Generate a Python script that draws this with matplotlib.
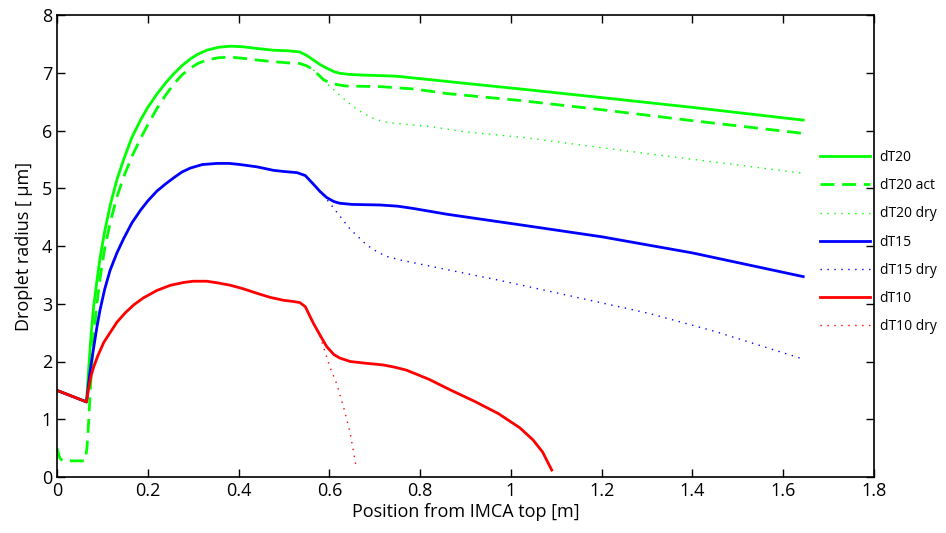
import numpy as np
import matplotlib
matplotlib.use("Agg")
import matplotlib.pyplot as plt

# ---- data ----
x_dT20 = [0.0, 0.065, 0.070, 0.075, 0.080, 0.088, 0.095, 0.105, 0.117, 0.132, 0.147,
          0.165, 0.184, 0.20, 0.220, 0.24, 0.257, 0.275, 0.294, 0.31, 0.330,
          0.355, 0.382, 0.41, 0.441, 0.477, 0.51, 0.535, 0.55, 0.565, 0.58,
          0.594, 0.61, 0.623, 0.645, 0.675, 0.748, 0.785, 0.859, 0.932, 1.02,
          1.2, 1.4, 1.644]
y_dT20 = [1.5, 1.30, 1.9, 2.45, 2.9, 3.40, 3.80, 4.25, 4.70, 5.15, 5.50,
          5.88, 6.18, 6.40, 6.63, 6.83, 6.98, 7.12, 7.24, 7.32, 7.39,
          7.44, 7.46, 7.45, 7.42, 7.39, 7.38, 7.36, 7.30, 7.22, 7.14,
          7.08, 7.02, 6.99, 6.97, 6.96, 6.94, 6.91, 6.85, 6.79, 6.72,
          6.57, 6.40, 6.18]

x_dT20_act = [0.0, 0.006, 0.012, 0.062, 0.066, 0.070, 0.074, 0.080, 0.088, 0.095, 0.105,
              0.117, 0.132, 0.147, 0.165, 0.184, 0.20, 0.220, 0.24, 0.257, 0.275,
              0.294, 0.31, 0.330, 0.355, 0.382, 0.41, 0.441, 0.48, 0.51, 0.535,
              0.55, 0.565, 0.578, 0.587, 0.60, 0.62, 0.638, 0.712, 0.785, 0.859,
              1.02, 1.2, 1.4, 1.644]
y_dT20_act = [0.5, 0.33, 0.28, 0.28, 0.5, 1.0, 1.6, 2.35, 3.0, 3.45, 3.95,
              4.40, 4.85, 5.20, 5.55, 5.86, 6.10, 6.38, 6.62, 6.80, 6.96,
              7.08, 7.16, 7.22, 7.26, 7.27, 7.25, 7.22, 7.19, 7.17, 7.16,
              7.12, 7.05, 6.95, 6.88, 6.83, 6.79, 6.77, 6.76, 6.72, 6.64,
              6.52, 6.36, 6.17, 5.95]

x_dT20_dry = [0.565, 0.587, 0.605, 0.623, 0.653, 0.675, 0.697, 0.72, 0.748, 0.822, 0.895,
              1.027, 1.3, 1.644]
y_dT20_dry = [7.05, 6.87, 6.74, 6.61, 6.41, 6.30, 6.21, 6.15, 6.12, 6.07, 5.98,
              5.88, 5.60, 5.26]

x_dT15 = [0.0, 0.065, 0.070, 0.075, 0.081, 0.088, 0.095, 0.105, 0.117, 0.132, 0.147,
          0.165, 0.184, 0.20, 0.220, 0.24, 0.257, 0.275, 0.294, 0.32, 0.352,
          0.38, 0.404, 0.441, 0.477, 0.50, 0.529, 0.547, 0.565, 0.58, 0.594,
          0.61, 0.623, 0.65, 0.712, 0.75, 0.785, 0.859, 1.035, 1.2, 1.4, 1.644]
y_dT15 = [1.5, 1.30, 1.65, 1.95, 2.25, 2.60, 2.90, 3.25, 3.58, 3.88, 4.13,
          4.40, 4.62, 4.78, 4.95, 5.08, 5.18, 5.28, 5.35, 5.41, 5.43,
          5.43, 5.41, 5.37, 5.31, 5.29, 5.27, 5.22, 5.07, 4.94, 4.84,
          4.77, 4.74, 4.72, 4.71, 4.69, 4.65, 4.55, 4.35, 4.16, 3.88, 3.47]

x_dT15_dry = [0.565, 0.587, 0.60, 0.616, 0.646, 0.682, 0.705, 0.726, 0.76, 0.792, 0.866,
              0.972, 1.1, 1.306, 1.45, 1.637]
y_dT15_dry = [5.06, 4.88, 4.75, 4.59, 4.29, 4.02, 3.90, 3.82, 3.75, 3.70, 3.58,
              3.41, 3.19, 2.83, 2.52, 2.06]

x_dT10 = [0.0, 0.065, 0.070, 0.075, 0.081, 0.09, 0.103, 0.117, 0.132, 0.15, 0.169,
          0.19, 0.220, 0.25, 0.28, 0.30, 0.330, 0.355, 0.382, 0.41, 0.441,
          0.47, 0.499, 0.52, 0.535, 0.547, 0.555, 0.565, 0.58, 0.594, 0.61,
          0.623, 0.646, 0.68, 0.719, 0.745, 0.770, 0.82, 0.866, 0.92, 0.972,
          1.02, 1.049, 1.07, 1.09]
y_dT10 = [1.5, 1.30, 1.55, 1.75, 1.91, 2.10, 2.33, 2.50, 2.68, 2.84, 2.98,
          3.10, 3.23, 3.32, 3.37, 3.39, 3.39, 3.36, 3.32, 3.26, 3.18,
          3.11, 3.06, 3.04, 3.02, 2.95, 2.82, 2.66, 2.45, 2.26, 2.12,
          2.06, 2.00, 1.97, 1.94, 1.90, 1.85, 1.69, 1.51, 1.31, 1.10,
          0.85, 0.64, 0.43, 0.12]

x_dT10_dry = [0.565, 0.572, 0.580, 0.590, 0.601, 0.616, 0.631, 0.646, 0.659]
y_dT10_dry = [2.66, 2.55, 2.43, 2.18, 1.91, 1.62, 1.22, 0.76, 0.18]

x_ticks = [0, 0.2, 0.4, 0.6, 0.8, 1, 1.2, 1.4, 1.6, 1.8]
x_tick_labels = ["0", "0.2", "0.4", "0.6", "0.8", "1", "1.2", "1.4", "1.6", "1.8"]
y_ticks = [0, 1, 2, 3, 4, 5, 6, 7, 8]

plt.rcParams['font.family'] = ['Open Sans', 'DejaVu Sans']

fig = plt.figure(figsize=(9.46, 5.33), dpi=100)
ax = fig.add_axes([57 / 946, 56 / 533, 817 / 946, 462 / 533])

lw = 2.0
dry = (0, (1, 4))
ax.plot(x_dT20, y_dT20, color=(0, 1, 0), lw=lw, label="dT20")
ax.plot(x_dT20_act, y_dT20_act, color=(0, 1, 0), lw=lw, dashes=(5, 2.8), label="dT20 act")
ax.plot(x_dT20_dry, y_dT20_dry, color=(0, 1, 0), lw=1.0, ls=dry, label="dT20 dry")
ax.plot(x_dT15, y_dT15, color=(0, 0, 1), lw=lw, label="dT15")
ax.plot(x_dT15_dry, y_dT15_dry, color=(0, 0, 1), lw=1.0, ls=dry, label="dT15 dry")
ax.plot(x_dT10, y_dT10, color=(1, 0, 0), lw=lw, label="dT10")
ax.plot(x_dT10_dry, y_dT10_dry, color=(1, 0, 0), lw=1.0, ls=dry, label="dT10 dry")

ax.set_xlim(0, 1.8)
ax.set_ylim(0, 8)
ax.set_xticks(x_ticks, labels=x_tick_labels)
ax.set_yticks(y_ticks)
ax.tick_params(direction='in', top=True, right=True, labelsize=13, length=6, width=1)
for s in ax.spines.values():
    s.set_linewidth(1.2)
ax.set_xlabel("Position from IMCA top [m]", fontsize=13, labelpad=2)
ax.set_ylabel("Droplet radius [ \u03bcm]", fontsize=13, labelpad=6)

fig.legend(loc='upper left', bbox_to_anchor=(820 / 946, 1 - 150 / 533), frameon=False,
           fontsize=10, handlelength=3.6, handletextpad=0.7, labelspacing=0.95,
           borderpad=0, borderaxespad=0)

fig.savefig("out.png", dpi=100)
